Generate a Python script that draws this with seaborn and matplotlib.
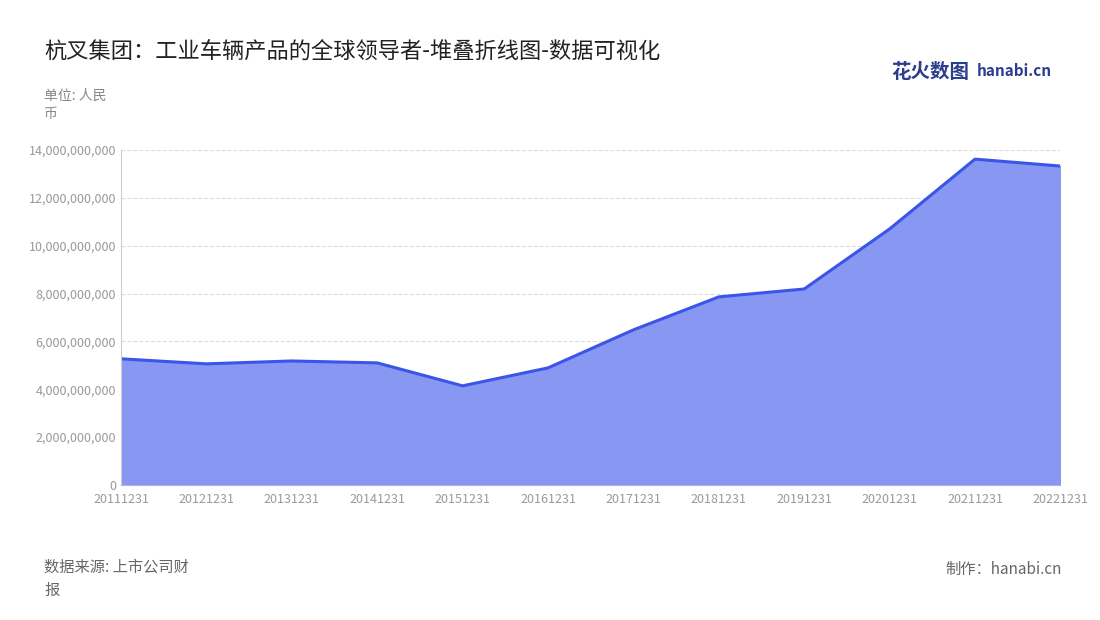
import matplotlib
matplotlib.use('Agg')
import matplotlib.pyplot as plt
import seaborn as sns
import pandas as pd
from matplotlib.ticker import FuncFormatter

years = ['20111231', '20121231', '20131231', '20141231', '20151231', '20161231',
         '20171231', '20181231', '20191231', '20201231', '20211231', '20221231']
revenue = [5.27e9, 5.06e9, 5.18e9, 5.10e9, 4.14e9, 4.89e9,
           6.48e9, 7.86e9, 8.19e9, 10.70e9, 13.62e9, 13.33e9]

sns.set_style('white')
plt.rcParams['font.family'] = ['Noto Sans CJK SC', 'DejaVu Sans']

df = pd.DataFrame({'x': range(len(years)), 'y': revenue})

fig = plt.figure(figsize=(11, 6.2), dpi=100)
ax = fig.add_axes([0.11, 0.218, 0.854, 0.54])

ax.fill_between(df['x'], df['y'], color='#8797f2', zorder=1)
sns.lineplot(data=df, x='x', y='y', ax=ax, color='#3a55e8', linewidth=2.2, zorder=2)

ax.set_xlim(0, len(years) - 1)
ax.set_ylim(0, 14e9)
ax.set_yticks([i * 2e9 for i in range(8)])
ax.yaxis.set_major_formatter(FuncFormatter(lambda v, p: f'{int(v):,}'))
ax.set_xticks(range(len(years)))
ax.set_xticklabels(years)
ax.tick_params(axis='both', labelsize=9, colors='#999999', length=0)
ax.tick_params(axis='x', pad=6)
ax.grid(axis='y', linestyle='--', color='#dddddd', linewidth=0.8)
ax.set_axisbelow(True)
for s in ['top', 'right']:
    ax.spines[s].set_visible(False)
ax.spines['left'].set_color('#cccccc')
ax.spines['bottom'].set_color('#aab4f0')
ax.set_xlabel('')
ax.set_ylabel('')

fig.text(0.04, 0.905, '杭叉集团：工业车辆产品的全球领导者-堆叠折线图-数据可视化', fontsize=16, color='#222222')
fig.text(0.04, 0.81, '单位: 人民\n币', fontsize=10, color='#888888', linespacing=1.4)
fig.text(0.04, 0.04, '数据来源: 上市公司财\n报', fontsize=11, color='#666666', linespacing=1.5)
fig.text(0.965, 0.075, '制作：hanabi.cn', fontsize=11, color='#666666', ha='right')
fig.text(0.81, 0.875, '花火数图', fontsize=14, color='#2a3d8f', fontweight='bold')
fig.text(0.888, 0.878, 'hanabi.cn', fontsize=11, color='#2a3d8f', fontweight='bold')

fig.savefig('out.png', dpi=100)
